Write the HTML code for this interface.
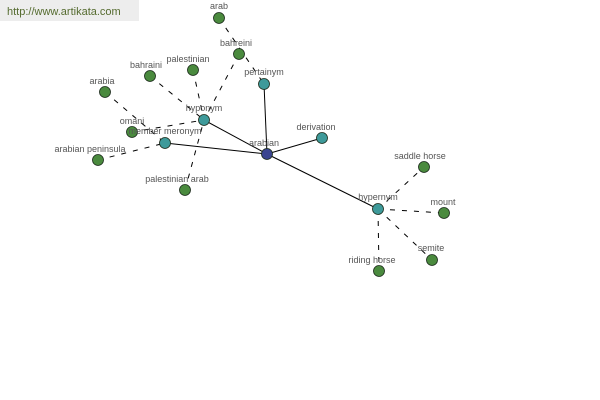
<!DOCTYPE html>
<html><head><style>
html,body{margin:0;padding:0;background:#fff;width:600px;height:400px;overflow:hidden}
svg text{font-family:"Liberation Sans",sans-serif;font-size:9px;fill:#555}
</style></head><body>
<svg width="600" height="400" xmlns="http://www.w3.org/2000/svg">
<rect x="0" y="0" width="139" height="21" fill="#ededed"/>
<text x="7" y="15" style="font-size:11px;fill:#556b2f">http://www.artikata.com</text>
<g stroke="#000" stroke-width="1" fill="none">
<line x1="267" y1="154" x2="204" y2="120"/>
<line x1="267" y1="154" x2="165" y2="143"/>
<line x1="267" y1="154" x2="264" y2="84"/>
<line x1="267" y1="154" x2="322" y2="138"/>
<line x1="267" y1="154" x2="378" y2="209"/>
</g>
<g stroke="#000" stroke-width="1" stroke-dasharray="5,7" fill="none">
<line x1="219" y1="18" x2="264" y2="84"/>
<line x1="239" y1="54" x2="204" y2="120"/>
<line x1="193" y1="70" x2="204" y2="120"/>
<line x1="150" y1="76" x2="204" y2="120"/>
<line x1="132" y1="132" x2="204" y2="120"/>
<line x1="185" y1="190" x2="204" y2="120"/>
<line x1="105" y1="92" x2="165" y2="143"/>
<line x1="98" y1="160" x2="165" y2="143"/>
<line x1="378" y1="209" x2="424" y2="167"/>
<line x1="378" y1="209" x2="444" y2="213"/>
<line x1="378" y1="209" x2="432" y2="260"/>
<line x1="378" y1="209" x2="379" y2="271"/>
</g>
<g stroke="#1a2a1a" stroke-width="0.8">
<circle cx="267" cy="154" r="5.5" fill="#3b4590"/>
<g fill="#3e9a9a">
<circle cx="204" cy="120" r="5.5"/><circle cx="165" cy="143" r="5.5"/><circle cx="264" cy="84" r="5.5"/><circle cx="322" cy="138" r="5.5"/><circle cx="378" cy="209" r="5.5"/>
</g>
<g fill="#4a8a3e">
<circle cx="219" cy="18" r="5.5"/><circle cx="239" cy="54" r="5.5"/><circle cx="193" cy="70" r="5.5"/><circle cx="150" cy="76" r="5.5"/><circle cx="105" cy="92" r="5.5"/><circle cx="132" cy="132" r="5.5"/><circle cx="98" cy="160" r="5.5"/><circle cx="185" cy="190" r="5.5"/><circle cx="424" cy="167" r="5.5"/><circle cx="444" cy="213" r="5.5"/><circle cx="432" cy="260" r="5.5"/><circle cx="379" cy="271" r="5.5"/>
</g>
</g>
<g text-anchor="middle">
<text x="264" y="146">arabian</text>
<text x="204" y="111">hyponym</text>
<text x="165" y="134">member meronym</text>
<text x="264" y="75">pertainym</text>
<text x="316" y="130">derivation</text>
<text x="378" y="200">hypernym</text>
<text x="219" y="9">arab</text>
<text x="236" y="46">bahreini</text>
<text x="188" y="62">palestinian</text>
<text x="146" y="68">bahraini</text>
<text x="102" y="84">arabia</text>
<text x="132" y="124">omani</text>
<text x="90" y="152">arabian peninsula</text>
<text x="177" y="182">palestinian arab</text>
<text x="420" y="159">saddle horse</text>
<text x="443" y="205">mount</text>
<text x="431" y="251">semite</text>
<text x="372" y="263">riding horse</text>
</g>
</svg>
</body></html>
